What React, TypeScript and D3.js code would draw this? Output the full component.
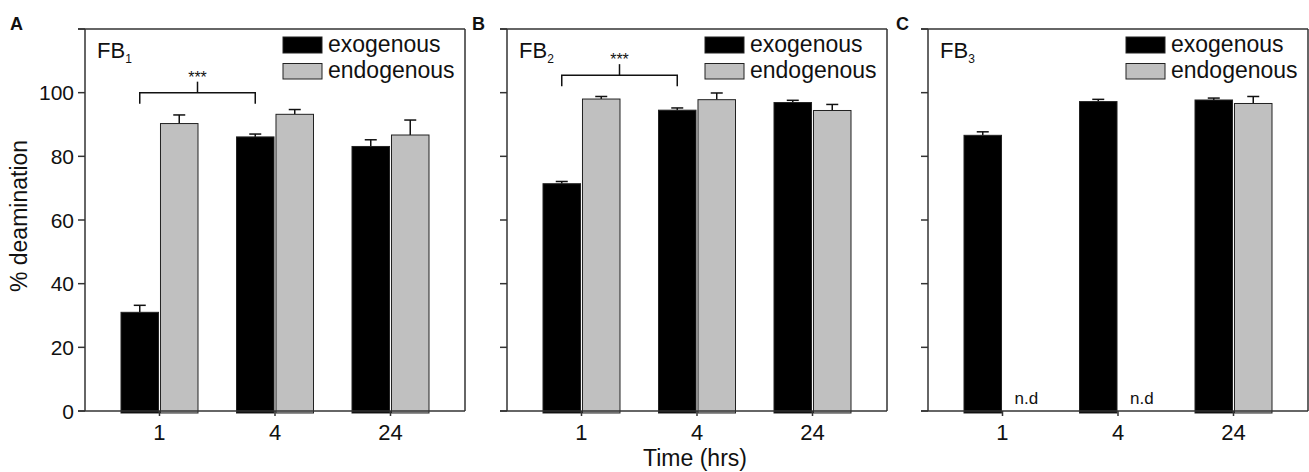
import React from 'react';
import * as d3 from 'd3';

// time points (hrs)
const categories = ['1', '4', '24'];
const series = ['exogenous', 'endogenous'];
const yTicks = [0, 20, 40, 60, 80, 100, 120];
const yLabels = [0, 20, 40, 60, 80, 100];

// % deamination, mean and upper error
const fb1Exo = [31.0, 86.1, 83.1];
const fb1ExoErr = [2.2, 0.9, 2.1];
const fb1Endo = [90.3, 93.2, 86.7];
const fb1EndoErr = [2.7, 1.5, 4.7];

const fb2Exo = [71.4, 94.5, 96.9];
const fb2ExoErr = [0.7, 0.7, 0.7];
const fb2Endo = [98.0, 97.8, 94.4];
const fb2EndoErr = [0.8, 2.1, 1.9];

const fb3Exo = [86.6, 97.2, 97.7];
const fb3ExoErr = [1.1, 0.7, 0.6];
const fb3Endo: (number | null)[] = [null, null, 96.6];
const fb3EndoErr = [0, 0, 2.2];

// significance brackets (from, to, level)
const fb1Sig = { from: '1', to: '4', level: 100, label: '***' };
const fb2Sig = { from: '1', to: '4', level: 105.5, label: '***' };

const font = 'Liberation Sans, Arial, Helvetica, sans-serif';
const W = 1309;
const H = 472;
const top = 29;
const bottom = 411;
const pw = 380;
const lefts = [85, 507, 928];
const axisColor = '#333';
const gray = '#c0c0c0';

const panels = [
  { id: 'A', sub: '1', exo: fb1Exo, exoErr: fb1ExoErr, endo: fb1Endo as (number | null)[], endoErr: fb1EndoErr, sig: fb1Sig, showLabels: true },
  { id: 'B', sub: '2', exo: fb2Exo, exoErr: fb2ExoErr, endo: fb2Endo as (number | null)[], endoErr: fb2EndoErr, sig: fb2Sig, showLabels: false },
  { id: 'C', sub: '3', exo: fb3Exo, exoErr: fb3ExoErr, endo: fb3Endo, endoErr: fb3EndoErr, sig: null, showLabels: false },
];

const y = d3.scaleLinear().domain([0, 120]).range([bottom, top]);
const x = d3.scalePoint<string>().domain(categories).range([0, pw]).padding(0.645);
const xs = d3.scaleBand<string>().domain(series).range([-38.5, 38.5]).paddingInner(0.05);

function Bar({ cx, v, e, fill }: { cx: number; v: number; e: number; fill: string }) {
  const bw = xs.bandwidth();
  const mid = cx + bw / 2;
  return (
    <g>
      <line x1={mid} x2={mid} y1={y(v)} y2={y(v + e)} stroke="#111" strokeWidth={1.5} />
      <line x1={mid - 6} x2={mid + 6} y1={y(v + e)} y2={y(v + e)} stroke="#111" strokeWidth={1.5} />
      <rect x={cx} y={y(v)} width={bw} height={y(0) - y(v) + 2} fill={fill} stroke="#222" strokeWidth={1} />
    </g>
  );
}

function Panel({ p, left }: { p: (typeof panels)[number]; left: number }) {
  const bw = xs.bandwidth();
  const exoX = (c: string) => (x(c) as number) + (xs('exogenous') as number);
  const endoX = (c: string) => (x(c) as number) + (xs('endogenous') as number);
  return (
    <g transform={`translate(${left},0)`}>
      {/* bars */}
      {categories.map((c, i) => (
        <g key={c}>
          <Bar cx={exoX(c)} v={p.exo[i]} e={p.exoErr[i]} fill="#000" />
          {p.endo[i] != null ? (
            <Bar cx={endoX(c)} v={p.endo[i] as number} e={p.endoErr[i]} fill={gray} />
          ) : (
            <text x={endoX(c) + 11} y={y(0) - 7} fontSize={17} fontFamily={font} fill="#111">n.d</text>
          )}
        </g>
      ))}
      {/* frame */}
      <line x1={0} x2={0} y1={top} y2={bottom} stroke={axisColor} strokeWidth={1.5} />
      <line x1={-7} x2={pw} y1={bottom} y2={bottom} stroke={axisColor} strokeWidth={1.5} />
      <line x1={-7} x2={pw} y1={top} y2={top} stroke={axisColor} strokeWidth={1.5} />
      <line x1={pw} x2={pw} y1={top} y2={bottom} stroke={axisColor} strokeWidth={1.5} />
      {yTicks.map((t) => (
        <line key={t} x1={-7} x2={0} y1={y(t)} y2={y(t)} stroke={axisColor} strokeWidth={1.5} />
      ))}
      {p.showLabels &&
        yLabels.map((t) => (
          <text key={t} x={-11} y={y(t)} dy="0.36em" textAnchor="end" fontSize={21} fontFamily={font} fill="#111">
            {t}
          </text>
        ))}
      {categories.map((c) => (
        <g key={c}>
          <line x1={x(c)} x2={x(c)} y1={bottom} y2={bottom + 5} stroke={axisColor} strokeWidth={1.5} />
          <text x={x(c)} y={bottom + 29} textAnchor="middle" fontSize={22} fontFamily={font} fill="#111">
            {c}
          </text>
        </g>
      ))}
      {/* FB label */}
      <text x={12} y={58} fontSize={22} fontFamily={font} fill="#111">
        FB
        <tspan fontSize={12} dy={5}>{p.sub}</tspan>
      </text>
      {/* legend */}
      <rect x={198} y={37} width={39} height={16} fill="#000" stroke="#222" />
      <text x={243} y={52} fontSize={23} fontFamily={font} fill="#111">exogenous</text>
      <rect x={198} y={63.5} width={39} height={15.5} fill={gray} stroke="#222" />
      <text x={243} y={78} fontSize={23} fontFamily={font} fill="#111">endogenous</text>
      {/* significance */}
      {p.sig && (() => {
        const x1 = exoX(p.sig.from) + bw / 2;
        const x2 = exoX(p.sig.to) + bw / 2;
        const yl = y(p.sig.level);
        const mx = (x1 + x2) / 2;
        return (
          <g fill="none" stroke="#111" strokeWidth={1.5}>
            <path d={`M${x1},${yl + 11}V${yl}H${x2}V${yl + 11}`} />
            <line x1={mx} x2={mx} y1={yl} y2={yl - 11} />
            <text x={mx} y={yl - 10} textAnchor="middle" fontSize={16} fontFamily={font} fill="#111" stroke="none">
              {p.sig.label}
            </text>
          </g>
        );
      })()}
      {/* panel letter */}
      <text x={-75 + (p.id === 'A' ? 0 : p.id === 'B' ? 40 : 43)} y={30} fontSize={18} fontWeight="bold" fontFamily={font} fill="#111">
        {p.id}
      </text>
    </g>
  );
}

export default function App() {
  return (
    <svg width={W} height={H} style={{ position: 'absolute', left: 0, top: 0, background: '#fff' }}>
      <rect width={W} height={H} fill="#fff" />
      {panels.map((p, i) => (
        <Panel key={p.id} p={p} left={lefts[i]} />
      ))}
      <text transform={`translate(27,216) rotate(-90)`} textAnchor="middle" fontSize={23} fontFamily={font} fill="#111">
        % deamination
      </text>
      <text x={695} y={466} textAnchor="middle" fontSize={23} fontFamily={font} fill="#111">
        Time (hrs)
      </text>
    </svg>
  );
}
